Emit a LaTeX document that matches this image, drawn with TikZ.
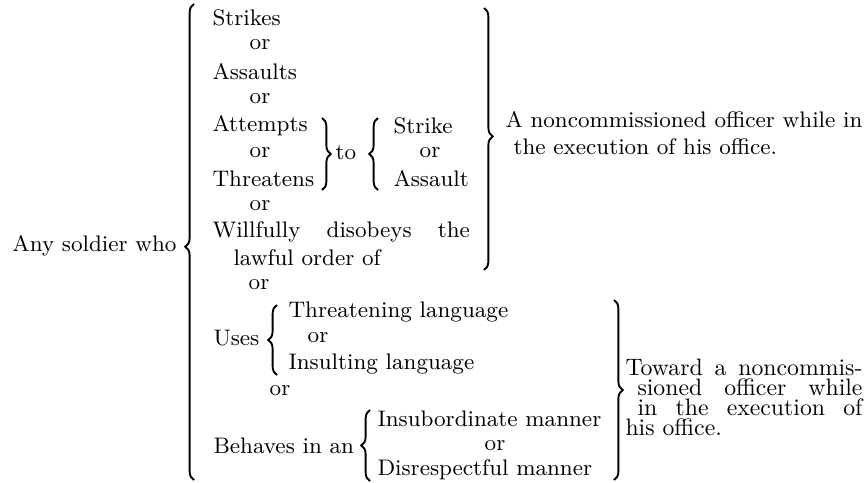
\documentclass[tikz,border=0pt]{standalone}
\usetikzlibrary{decorations.pathreplacing}
\begin{document}
\begin{tikzpicture}[x=0.4pt,y=-0.4pt,
		every node/.style={font=\fontsize{9}{10}\selectfont,inner sep=0pt},
		curly/.style={decorate,decoration={brace,amplitude=3.5pt,aspect=#1},line width=.75pt},
		curly/.default=0.5]
		\useasboundingbox (0,0) rectangle (864,482);
		% the soldier
		\node[anchor=east] (who) at (177,246) {Any soldier who};
		\coordinate (who top) at (194,4);
		\coordinate (who bot) at (194,480);
		\draw[curly=0.49] (who bot) -- (who top);
		% first group
		\node[anchor=west] (strikes) at (212,18) {Strikes};
		\node (or1) at (260,45) {or};
		\node[anchor=west] (assaults) at (212,72) {Assaults};
		\node (or2) at (260,99) {or};
		\node[anchor=west] (attempts) at (212,126) {Attempts};
		\node (or3) at (260,153) {or};
		\node[anchor=west] (threatens) at (212,179) {Threatens};
		\node (or4) at (260,206) {or};
		\node[anchor=west] (disobeys) at (212,232) {\makebox[103pt][s]{Willfully disobeys the}};
		\node[anchor=west] (order) at (233,258) {lawful order of};
		\coordinate (att top) at (322,118);
		\coordinate (att bot) at (322,190);
		\draw[curly] (att top) -- (att bot);
		\node (to) at (346,153) {to};
		\coordinate (act top) at (378,118);
		\coordinate (act bot) at (378,190);
		\draw[curly] (act bot) -- (act top);
		\node[anchor=west] (strike) at (393,126) {Strike};
		\node (or5) at (430,153) {or};
		\node[anchor=west] (assault) at (393,179) {Assault};
		\coordinate (grp top) at (484,8);
		\coordinate (grp bot) at (484,270);
		\draw[curly=0.49] (grp top) -- (grp bot);
		\node[anchor=west] (nco) at (505,120) {A noncommissioned officer while in};
		\node[anchor=west] (office) at (513,147) {the execution of his office.};
		% second group
		\node (or6) at (259,285) {or};
		\node[anchor=west] (uses) at (213,338) {Uses};
		\coordinate (uses top) at (277,305);
		\coordinate (uses bot) at (277,375);
		\draw[curly] (uses bot) -- (uses top);
		\node[anchor=west] (threat) at (288,312) {Threatening language};
		\node (or7) at (318,338) {or};
		\node[anchor=west] (insult) at (288,364) {Insulting language};
		\node (or8) at (280,391) {or};
		\node[anchor=west] (behaves) at (213,446) {Behaves in an};
		\coordinate (beh top) at (370,410);
		\coordinate (beh bot) at (370,481);
		\draw[curly] (beh bot) -- (beh top);
		\node[anchor=west] (insub) at (377,419) {Insubordinate manner};
		\node (or9) at (495,446) {or};
		\node[anchor=west] (disresp) at (377,470) {Disrespectful manner};
		\coordinate (low top) at (614,300);
		\coordinate (low bot) at (614,480);
		\draw[curly] (low top) -- (low bot);
		\begin{scope}[every node/.append style={font=\fontsize{9.5}{10}\selectfont}]
			\node[anchor=west] (toward) at (625,367) {\makebox[94.8pt][s]{Toward a noncommis-}};
			\node[anchor=west] (sioned) at (637,387) {\makebox[90pt][s]{sioned officer while}};
			\node[anchor=west] (exec) at (637,407) {\makebox[90pt][s]{in the execution of}};
			\node[anchor=west] (his) at (625,427) {his office.};
		\end{scope}
	\end{tikzpicture}
\end{document}
